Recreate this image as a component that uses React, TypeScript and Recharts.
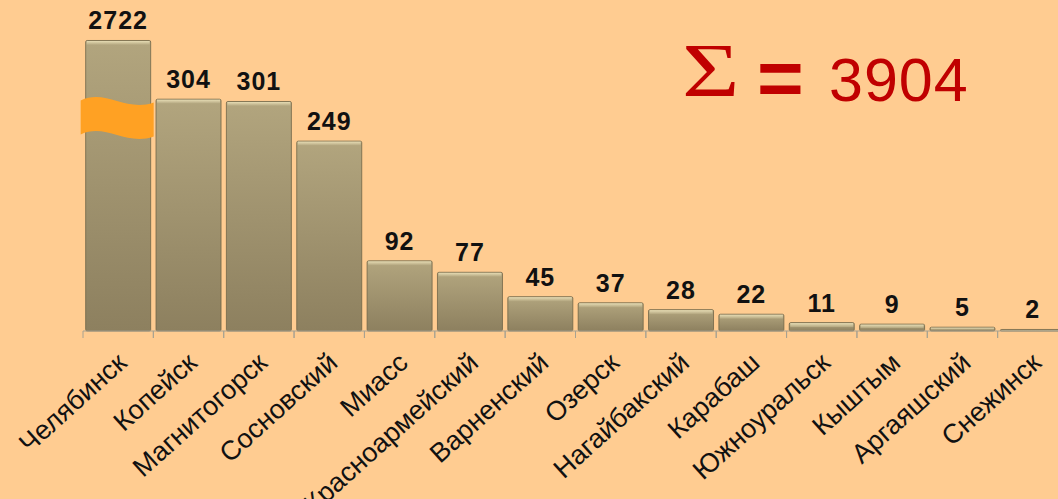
import React from 'react';
import { Bar, BarChart, LabelList, XAxis, YAxis } from 'recharts';

const districts = [
  'Челябинск', 'Копейск', 'Магнитогорск', 'Сосновский', 'Миасс', 'Красноармейский', 'Варненский',
  'Озерск', 'Нагайбакский', 'Карабаш', 'Южноуральск', 'Кыштым', 'Аргаяшский', 'Снежинск',
];
const counts = [2722, 304, 301, 249, 92, 77, 45, 37, 28, 22, 11, 9, 5, 2];
const totalLabel = '3904';

// the tall bar is cut (broken axis), so it is drawn only up to this value
const BREAK_AT = 381;

const CHART_W = 1070;
const CHART_H = 499;
const MARGIN = { top: 26, right: 2, left: 83, bottom: 0 };
const SLOT = (CHART_W - MARGIN.left - MARGIN.right) / districts.length;

const data = districts.map((name, i) => ({
  name,
  value: counts[i],
  plotted: Math.min(counts[i], BREAK_AT),
  broken: counts[i] > BREAK_AT,
}));

const BevelBar = (props: any) => {
  const { x, y, width, height, payload } = props;
  if (!height || height <= 0) return null;
  const hl = Math.min(4, height / 2);
  return (
    <g>
      <rect x={x} y={y} width={width} height={height} rx={1.5} fill="url(#barBody)" stroke="#6f6548" strokeWidth={0.8} />
      <rect x={x + 1} y={y + 0.5} width={width - 2} height={hl} fill="url(#barTop)" />
      {payload.broken && (
        <path
          d={`M ${x - 5} ${y + 60}
              C ${x + 20} ${y + 48} ${x + 40} ${y + 72} ${x + width + 3} ${y + 62}
              L ${x + width + 3} ${y + 96}
              C ${x + 40} ${y + 106} ${x + 20} ${y + 82} ${x - 5} ${y + 94} Z`}
          fill="#ffa123"
        />
      )}
    </g>
  );
};

const ValueLabel = (props: any) => {
  const { x, y, width, value } = props;
  return (
    <text
      x={x + width / 2}
      y={y - 11}
      textAnchor="middle"
      fontFamily="'Liberation Sans', Arial, sans-serif"
      fontWeight="bold"
      fontSize={25}
      letterSpacing={1}
      fill="#111"
    >
      {value}
    </text>
  );
};

const DistrictTick = (props: any) => {
  const { x, y, payload } = props;
  const ax = x + 10;
  const ay = y + 34;
  return (
    <g>
      <line x1={x - SLOT / 2} y1={y} x2={x - SLOT / 2} y2={y + 7} stroke="#a8a291" strokeWidth={1} />
      <line x1={x + SLOT / 2} y1={y} x2={x + SLOT / 2} y2={y + 7} stroke="#a8a291" strokeWidth={1} />
      <text
        x={ax}
        y={ay}
        textAnchor="end"
        transform={`rotate(-42 ${ax} ${ay})`}
        fontFamily="'Liberation Sans', Arial, sans-serif"
        fontSize={27}
        fill="#111"
      >
        {payload.value}
      </text>
    </g>
  );
};

export default function App() {
  return (
    <div
      style={{
        position: 'fixed',
        top: 0,
        left: 0,
        width: 1058,
        height: 499,
        overflow: 'hidden',
        background: '#ffcc91',
      }}
    >
      <BarChart width={CHART_W} height={CHART_H} data={data} margin={MARGIN} barCategoryGap="3.8%">
        <defs>
          <linearGradient id="barBody" x1="0" y1="0" x2="0" y2="1">
            <stop offset="0%" stopColor="#b2a57e" />
            <stop offset="100%" stopColor="#8d805f" />
          </linearGradient>
          <linearGradient id="barTop" x1="0" y1="0" x2="0" y2="1">
            <stop offset="0%" stopColor="#e6dcb4" />
            <stop offset="100%" stopColor="#b2a57e" />
          </linearGradient>
        </defs>
        <XAxis
          dataKey="name"
          interval={0}
          height={168}
          tickLine={false}
          tickSize={0}
          tickMargin={0}
          axisLine={{ stroke: '#a8a291', strokeWidth: 1.2 }}
          tick={<DistrictTick />}
        />
        <YAxis hide domain={[0, 400]} />
        <Bar dataKey="plotted" shape={<BevelBar />} isAnimationActive={false}>
          <LabelList dataKey="value" content={<ValueLabel />} />
        </Bar>
      </BarChart>

      <div style={{ position: 'absolute', left: 680, top: 22, color: '#c00000', whiteSpace: 'nowrap' }}>
        <span
          style={{
            fontFamily: "'Liberation Serif', 'Times New Roman', serif",
            fontSize: 76,
            position: 'absolute',
            left: 2,
            top: 10,
            display: 'inline-block',
            transform: 'scaleX(1.3)',
            transformOrigin: 'left top',
            lineHeight: 1,
          }}
        >
          Σ
        </span>
        <span
          style={{
            fontFamily: "'Liberation Sans', Arial, sans-serif",
            fontWeight: 'bold',
            fontSize: 80,
            position: 'absolute',
            left: 77,
            top: 10,
          }}
        >
          =
        </span>
        <span
          style={{
            fontFamily: "'Liberation Sans', Arial, sans-serif",
            fontSize: 61,
            letterSpacing: 1,
            position: 'absolute',
            left: 149,
            top: 23,
          }}
        >
          {totalLabel}
        </span>
      </div>

      <div
        style={{
          position: 'absolute',
          left: 404,
          top: 490,
          fontFamily: "'Liberation Sans', Arial, sans-serif",
          fontWeight: 'bold',
          fontSize: 90,
          color: '#4a3222',
          lineHeight: 1,
        }}
      >
        МБ
      </div>
    </div>
  );
}
